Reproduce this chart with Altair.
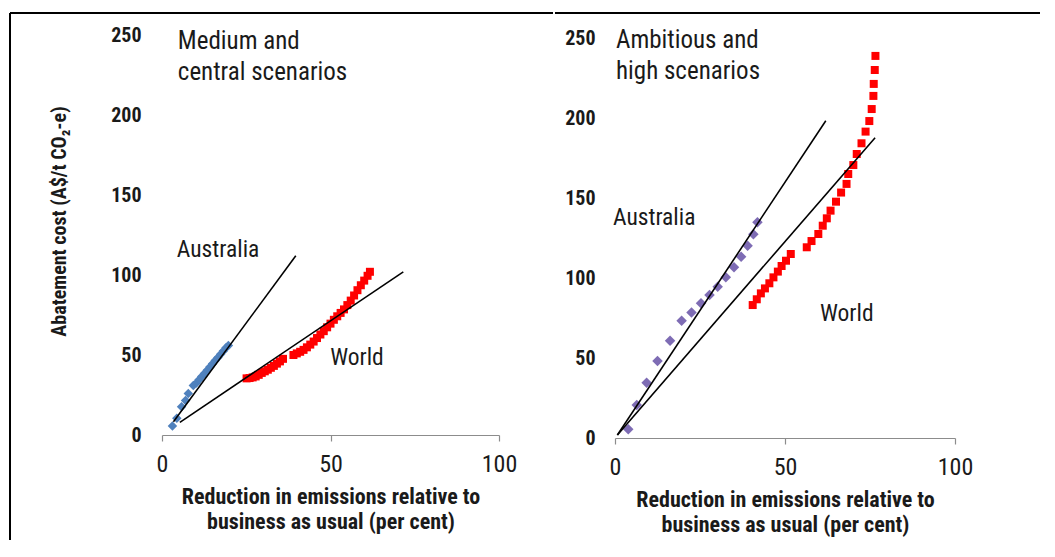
import altair as alt
import pandas as pd

FONT = "Liberation Sans Narrow, Arial Narrow, Roboto Condensed, sans-serif"
TXT = "#1a1a1a"

# ---------------- Left panel: Medium and central scenarios ----------------
med_aus_x = [3.1, 4.4, 5.8, 7.0, 7.8, 9.3, 10.2, 11.0, 11.8, 12.6, 13.4, 14.2, 15.0, 15.8, 16.6, 17.4, 18.2, 19.0, 19.7]
med_aus_y = [5.6, 10.4, 17.7, 21.5, 26.0, 31.0, 32.5, 34.5, 36.5, 38.5, 40.5, 42.5, 44.5, 46.5, 48.5, 50.5, 52.5, 54.5, 56.0]

med_world_x = [25.1, 26.0, 26.9, 27.8, 28.7, 29.6, 30.5, 31.4, 32.3, 33.2, 34.1, 35.0, 35.9,
               39.0, 40.0, 41.0, 42.0, 43.0, 44.0, 45.0, 46.0, 47.0, 48.0, 49.0, 50.0, 51.0,
               52.0, 53.0, 54.0, 55.0, 56.0, 57.0, 58.0, 59.0, 60.0, 61.0, 61.7]
med_world_y = [35.4, 35.6, 36.0, 36.6, 37.6, 38.8, 39.8, 40.8, 42.0, 43.2, 44.6, 46.0, 47.6,
               50.0, 51.0, 52.0, 53.2, 54.8, 56.5, 58.4, 60.6, 62.8, 64.9, 67.3, 69.6, 72.0,
               74.2, 76.3, 78.5, 81.2, 84.0, 87.2, 90.5, 93.6, 96.5, 99.5, 102.0]

med_aus_trend_x = [3.4, 39.7]
med_aus_trend_y = [8.3, 112.0]
med_world_trend_x = [5.3, 71.6]
med_world_trend_y = [7.9, 102.0]

# ---------------- Right panel: Ambitious and high scenarios ----------------
amb_aus_x = [3.9, 6.4, 9.3, 12.5, 16.2, 19.6, 22.5, 25.3, 27.8, 30.2, 32.6, 35.0, 37.1, 39.0, 40.7, 41.9]
amb_aus_y = [5.4, 20.6, 34.6, 48.1, 60.8, 73.3, 78.5, 84.2, 89.4, 94.6, 100.4, 106.7, 113.3, 120.2, 127.3, 134.8]

amb_world_x = [40.5, 41.7, 42.9, 44.1, 45.4, 46.6, 47.9, 49.0, 50.3, 51.7,
               56.4, 57.8, 59.8, 61.1, 62.3, 63.4, 65.0, 66.5, 68.1, 68.6,
               70.1, 71.1, 72.5, 73.7, 74.8, 75.5, 76.0, 76.1, 76.4, 76.6]
amb_world_y = [83.1, 86.7, 90.4, 93.5, 96.7, 100.4, 104.0, 107.5, 110.8, 115.0,
               119.2, 123.1, 127.5, 132.7, 137.3, 142.1, 147.7, 153.4, 158.8, 165.0,
               170.6, 177.5, 184.2, 191.5, 198.1, 205.6, 213.8, 221.3, 230.0, 238.8]

amb_aus_trend_x = [0.7, 62.0]
amb_aus_trend_y = [1.9, 198.3]
amb_world_trend_x = [0.7, 76.5]
amb_world_trend_y = [1.9, 187.7]

x_ticks = [0, 50, 100]
y_ticks = [0, 50, 100, 150, 200, 250]
x_title = ["Reduction in emissions relative to", "business as usual (per cent)"]
y_title = "Abatement cost (A$/t CO\u2082-e)"


def x_enc():
    return alt.X(
        "x:Q",
        scale=alt.Scale(domain=[0, 100], nice=False, zero=False),
        axis=alt.Axis(
            values=x_ticks, grid=False, domainColor="#8c8c8c", domainWidth=1.2,
            tickColor="#8c8c8c", tickSize=6, tickWidth=1.2,
            labelFont=FONT, labelFontSize=24, labelColor=TXT, labelPadding=11,
            labelFlush=False, labelOverlap=False,
            title=x_title, titleFont=FONT, titleFontSize=22, titleFontWeight="bold",
            titleColor=TXT, titlePadding=10, titleLineHeight=25,
        ),
    )


def y_enc(with_title, label_pad, ymax):
    kw = dict(
        values=y_ticks, grid=False, domain=False, ticks=False, tickSize=0,
        labelFont=FONT, labelFontSize=20, labelFontWeight="bold", labelColor=TXT,
        labelPadding=label_pad, labelOverlap=False,
    )
    sc = alt.Scale(domain=[0, ymax], nice=False, zero=False)
    if with_title:
        kw.update(title=y_title, titleFont=FONT, titleFontSize=20, titleFontWeight="bold",
                  titleColor=TXT, titlePadding=41, titleY=186)
        return alt.Y("y:Q", scale=sc, axis=alt.Axis(**kw))
    return alt.Y("y:Q", scale=sc, axis=alt.Axis(**kw), title=None)


def panel(aus_x, aus_y, aus_color, aus_size, world_x, world_y, world_size,
          at_x, at_y, wt_x, wt_y, title_lines, title_pos, aus_pos, world_pos,
          with_ytitle, label_pad, ymax, frame_rules, w, h):
    X = x_enc()
    Y = y_enc(with_ytitle, label_pad, ymax)

    aus = pd.DataFrame({"x": aus_x, "y": aus_y})
    world = pd.DataFrame({"x": world_x, "y": world_y})
    trend = pd.DataFrame({
        "x": list(at_x) + list(wt_x),
        "y": list(at_y) + list(wt_y),
        "s": ["Australia"] * len(at_x) + ["World"] * len(wt_x),
    })

    p_aus = alt.Chart(aus).mark_point(shape="diamond", filled=True, opacity=1,
                                      size=aus_size, color=aus_color).encode(x=X, y=Y)
    p_world = alt.Chart(world).mark_square(size=world_size, color="#ff0000",
                                           opacity=1).encode(x=X, y=Y)
    lines = alt.Chart(trend).mark_line(color="black", strokeWidth=1.6).encode(
        x=X, y=Y, detail="s:N")

    ttl = alt.Chart(pd.DataFrame({"x": [title_pos[0]], "y": [title_pos[1]],
                                  "t": ["\n".join(title_lines)]})).mark_text(
        align="left", baseline="top", font=FONT, fontSize=25, lineHeight=31,
        lineBreak="\n", color=TXT).encode(x=X, y=Y, text="t:N")

    labels = alt.Chart(pd.DataFrame({
        "x": [aus_pos[0], world_pos[0]], "y": [aus_pos[1], world_pos[1]],
        "t": ["Australia", "World"]})).mark_text(
        align="left", baseline="middle", font=FONT, fontSize=23.5, color=TXT).encode(
        x=X, y=Y, text="t:N")

    layers = [p_aus, p_world, lines, ttl, labels]
    one = pd.DataFrame({"k": [0]})
    for (x1, x2, y1, y2) in frame_rules:
        if y2 is None:
            r = alt.Chart(one).mark_rule(color="black", strokeWidth=2).encode(
                x=alt.value(x1), x2=alt.value(x2), y=alt.value(y1))
        else:
            r = alt.Chart(one).mark_rule(color="black", strokeWidth=2).encode(
                x=alt.value(x1), y=alt.value(y1), y2=alt.value(y2))
        layers.append(r)
    return alt.layer(*layers).properties(width=w, height=h)


left = panel(med_aus_x, med_aus_y, "#4f81bd", 90, med_world_x, med_world_y, 64,
             med_aus_trend_x, med_aus_trend_y, med_world_trend_x, med_world_trend_y,
             ["Medium and", "central scenarios"], (4.7, 254.0), (4.4, 115.6), (49.9, 48.0),
             True, 21, 250,
             [(-152, 391, -22, None), (-152, None, -22, 505)], 337, 400)

right = panel(amb_aus_x, amb_aus_y, "#7e6cb4", 110, amb_world_x, amb_world_y, 64,
              amb_aus_trend_x, amb_aus_trend_y, amb_world_trend_x, amb_world_trend_y,
              ["Ambitious and", "high scenarios"], (0.3, 256.0), (-0.6, 137.5), (60.3, 77.5),
              False, 20, 251.875,
              [(-60, 425, -22, None)], 340, 403)

chart = alt.hconcat(left, right, spacing=0).properties(
    padding={"left": 1, "top": 4, "right": 0, "bottom": 0},
    background="white",
).configure_view(strokeWidth=0)

chart.save("out.html", embed_options={"renderer": "svg", "actions": False})
